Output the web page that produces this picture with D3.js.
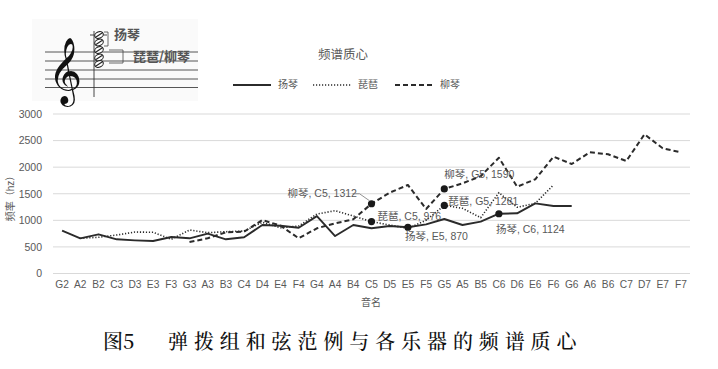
<!DOCTYPE html>
<html><head><meta charset="utf-8">
<script src="https://cdn.jsdelivr.net/npm/d3@7"></script>
<style>
html,body{margin:0;padding:0;background:#fff;}
svg{display:block;}
</style></head>
<body>
<svg id="chart" width="718" height="369"></svg>
<script>
const categories = ["G2","A2","B2","C3","D3","E3","F3","G3","A3","B3","C4","D4","E4","F4","G4","A4","B4","C5","D5","E5","F5","G5","A5","B5","C6","D6","E6","F6","G6","A6","B6","C7","D7","E7","F7"];
const yangqinStart = "G2";
const yangqin = [805,662,737,643,624,611,686,662,749,643,681,912,899,860,1080,705,912,850,893,870,925,1025,912,975,1124,1132,1320,1270,1270];
const pipaStart = "A2";
const pipa = [662,681,724,780,775,643,818,768,786,799,963,860,893,1119,1181,1081,976,912,850,1000,1281,1226,1050,1520,1245,1320,1665];
const liuqinStart = "G3";
const liuqin = [592,662,775,786,1006,900,662,850,944,1019,1312,1520,1665,1213,1590,1696,1830,2178,1633,1772,2197,2060,2280,2242,2116,2618,2355,2280];
const seriesNames = ["扬琴","琵琶","柳琴"];
const yTicks = [0,500,1000,1500,2000,2500,3000];
const annotations = [
  {name:"柳琴", cat:"C5", value:1312},
  {name:"琵琶", cat:"C5", value:976},
  {name:"扬琴", cat:"E5", value:870},
  {name:"柳琴", cat:"G5", value:1590},
  {name:"琵琶", cat:"G5", value:1281},
  {name:"扬琴", cat:"C6", value:1124}
];
const chartTitle = "频谱质心";
const yLabel = "频率（hz）";
const xLabel = "音名";
const captionFig = "图5";
const captionText = "弹拨组和弦范例与各乐器的频谱质心";

const svg = d3.select("#chart");
const FONT = "'Liberation Sans','Noto Sans CJK SC',sans-serif";
const GRAY = "#595959";

const x = d3.scaleBand().domain(categories).range([53,690]).padding(0);
const cx = c => x(c) + x.bandwidth()/2;
const y = d3.scaleLinear().domain([0,3000]).range([273.5,114]);

// gridlines
svg.append("g").selectAll("line").data(yTicks).join("line")
  .attr("x1",53).attr("x2",690)
  .attr("y1",d=>y(d)).attr("y2",d=>y(d))
  .attr("stroke","#d9d9d9").attr("stroke-width",1);

// y axis
const yAxis = svg.append("g").attr("transform","translate(46,0)")
  .call(d3.axisLeft(y).tickValues(yTicks).tickFormat(d3.format("d")).tickSize(0).tickPadding(4));
yAxis.select(".domain").remove();
yAxis.selectAll("text").attr("font-family",FONT).attr("font-size",10.5).attr("fill",GRAY);

// x axis
const xAxis = svg.append("g").attr("transform","translate(0,274)")
  .call(d3.axisBottom(x).tickSize(0).tickPadding(7));
xAxis.select(".domain").remove();
xAxis.selectAll("text").attr("font-family",FONT).attr("font-size",10.2).attr("fill",GRAY);

// axis titles
svg.append("text").attr("transform","translate(11,196) rotate(-90)")
  .attr("text-anchor","middle").attr("dominant-baseline","middle")
  .attr("font-family",FONT).attr("font-size",10).attr("fill",GRAY).text(yLabel);
svg.append("text").attr("x",371).attr("y",303).attr("text-anchor","middle")
  .attr("dominant-baseline","middle")
  .attr("font-family",FONT).attr("font-size",10).attr("fill",GRAY).text(xLabel);

// title
svg.append("text").attr("x",343).attr("y",56).attr("text-anchor","middle")
  .attr("dominant-baseline","middle")
  .attr("font-family",FONT).attr("font-size",12.5).attr("fill",GRAY).text(chartTitle);

// series
function toPts(start, arr){
  const i0 = categories.indexOf(start);
  return arr.map((v,i)=>({c:categories[i0+i], v}));
}
const styles = {
  "扬琴": {dash:null, w:1.9},
  "琵琶": {dash:"1.2,1.8", w:1.6},
  "柳琴": {dash:"5,3", w:2}
};
const seriesData = [
  {name:"扬琴", pts:toPts(yangqinStart,yangqin)},
  {name:"琵琶", pts:toPts(pipaStart,pipa)},
  {name:"柳琴", pts:toPts(liuqinStart,liuqin)}
];
const line = d3.line().x(d=>cx(d.c)).y(d=>y(d.v));
svg.append("g").selectAll("path").data(seriesData).join("path")
  .attr("d",d=>line(d.pts)).attr("fill","none")
  .attr("stroke","#2b2b2b")
  .attr("stroke-width",d=>styles[d.name].w)
  .attr("stroke-dasharray",d=>styles[d.name].dash)
  .attr("stroke-linejoin","round");

// legend
const legX = [233,313,395];
const legG = svg.append("g");
seriesNames.forEach((n,i)=>{
  legG.append("line").attr("x1",legX[i]).attr("x2",legX[i]+38)
    .attr("y1",85).attr("y2",85).attr("stroke","#2b2b2b")
    .attr("stroke-width",styles[n].w).attr("stroke-dasharray",styles[n].dash);
  legG.append("text").attr("x",legX[i]+45).attr("y",85).attr("dominant-baseline","middle")
    .attr("font-family",FONT).attr("font-size",10).attr("fill",GRAY).text(n);
});

// annotations
const labelOffsets = [
  {dx:-84, dy:-10, leader:true},
  {dx:6, dy:-4},
  {dx:-3, dy:10},
  {dx:0, dy:-14},
  {dx:4, dy:-3},
  {dx:-3, dy:16}
];
const annG = svg.append("g");
annotations.forEach((a,i)=>{
  const px = cx(a.cat), py = y(a.value);
  annG.append("circle").attr("cx",px).attr("cy",py).attr("r",3.6).attr("fill","#1a1a1a");
  const o = labelOffsets[i];
  annG.append("text").attr("x",px+o.dx).attr("y",py+o.dy).attr("dominant-baseline","middle")
    .attr("font-family",FONT).attr("font-size",10.5).attr("fill",GRAY)
    .text(`${a.name}, ${a.cat}, ${a.value}`);
  if(o.leader){
    annG.append("polyline")
      .attr("points",`${px-19},${py-10} ${px-12},${py-10} ${px-2},${py-3}`)
      .attr("fill","none").attr("stroke","#777").attr("stroke-width",0.8);
  }
});

// staff illustration
const st = svg.append("g");
st.append("rect").attr("x",32).attr("y",19).attr("width",166).attr("height",82).attr("fill","#fafafa");
[52,61,70,79,87.5].forEach(yy=>{
  st.append("line").attr("x1",45).attr("x2",198).attr("y1",yy).attr("y2",yy)
    .attr("stroke","#444").attr("stroke-width",0.9);
});
st.append("text").attr("x",48).attr("y",90).attr("font-family","'DejaVu Sans',sans-serif")
  .attr("font-size",58).attr("fill","#111").text("\u{1D11E}");
// stem
st.append("line").attr("x1",94).attr("x2",94).attr("y1",31).attr("y2",97).attr("stroke","#333").attr("stroke-width",0.9);
// ledger
st.append("line").attr("x1",90).attr("x2",107).attr("y1",35).attr("y2",35).attr("stroke","#333").attr("stroke-width",0.9);
[35,42.5,50,57.5,64].forEach(yy=>{
  st.append("ellipse").attr("cx",99).attr("cy",yy).attr("rx",4.4).attr("ry",3.2)
    .attr("transform",`rotate(-20,99,${yy})`).attr("fill","#fff").attr("stroke","#222").attr("stroke-width",1.1);
  st.append("line").attr("x1",96).attr("y1",yy+2).attr("x2",102).attr("y2",yy-2)
    .attr("stroke","#222").attr("stroke-width",1.1);
});
st.append("polyline").attr("points","104,32 108,32 108,46 104,46").attr("fill","none").attr("stroke","#444").attr("stroke-width",0.8);
st.append("polyline").attr("points","109,50 123,50 123,63 109,63").attr("fill","none").attr("stroke","#444").attr("stroke-width",0.8);
st.append("text").attr("x",114).attr("y",35).attr("dominant-baseline","middle")
  .attr("font-family","'Noto Sans CJK SC',sans-serif").attr("font-size",13).attr("font-weight","bold").attr("fill","#555").text("扬琴");
st.append("text").attr("x",133).attr("y",57).attr("dominant-baseline","middle")
  .attr("font-family","'Noto Sans CJK SC',sans-serif").attr("font-size",13).attr("font-weight","bold").attr("fill","#555").text("琵琶/柳琴");

// caption
const CAPF = "'Noto Serif CJK SC','Noto Sans CJK SC',serif";
svg.append("text").attr("x",103).attr("y",349).attr("font-family",CAPF)
  .attr("font-size",20).attr("font-weight",500).attr("fill","#111").text(captionFig);
svg.append("text").attr("x",168).attr("y",349).attr("font-family",CAPF)
  .attr("font-size",20).attr("font-weight",500).attr("letter-spacing",5.9).attr("fill","#111").text(captionText);
</script>
</body></html>
